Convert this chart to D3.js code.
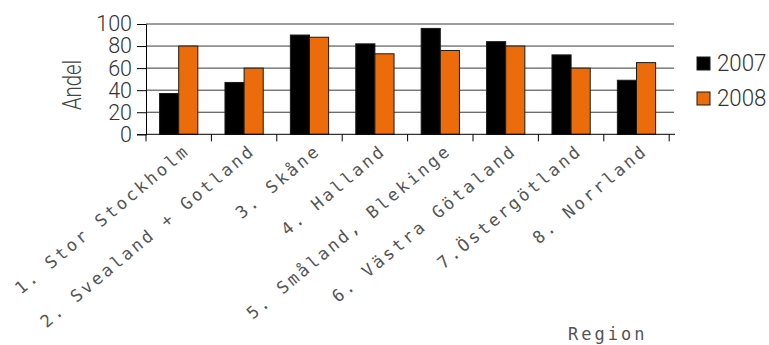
<!DOCTYPE html>
<html><head><meta charset="utf-8">
<script src="https://cdn.jsdelivr.net/npm/d3@7"></script>
<style>body{margin:0;background:#fff}</style>
</head><body><svg id="c" width="769" height="345"></svg>
<script>
const categories = ["1. Stor Stockholm","2. Svealand + Gotland","3. Skåne","4. Halland","5. Småland, Blekinge","6. Västra Götaland","7.Östergötland","8. Norrland"];
const seriesNames = ["2007","2008"];
const values2007 = [37,47,90,82,96,84,72,49];
const values2008 = [80,60,88,73,76,80,60,65];
const yTicks = [0,20,40,60,80,100];
const colors = ["#000000","#ec6c0c"];
const yTitle = "Andel";
const xTitle = "Region";

const svg = d3.select("#c");
const mLeft = 146, mRight = 669.2, plotRight = 674, mTop = 24, mBottom = 134.3;

const x0 = d3.scaleBand().domain(categories).range([mLeft, mRight]).padding(0);
const x1 = d3.scaleBand().domain(seriesNames).range([0, x0.bandwidth()]).paddingInner(0).paddingOuter(0.71);
const y = d3.scaleLinear().domain([0, 100]).range([mBottom, mTop]);
const color = d3.scaleOrdinal().domain(seriesNames).range(colors);

const data = categories.map((c, i) => ({cat: c, vals: [values2007[i], values2008[i]]}));

// gridlines
svg.append("g").selectAll("line").data(yTicks.filter(d => d > 0)).join("line")
  .attr("x1", mLeft).attr("x2", plotRight)
  .attr("y1", d => y(d)).attr("y2", d => y(d))
  .attr("stroke", "#3a3a3a").attr("stroke-width", 1);

// bars
svg.append("g").selectAll("g").data(data).join("g")
  .attr("transform", d => `translate(${x0(d.cat)},0)`)
  .selectAll("rect").data(d => d.vals.map((v, j) => ({s: seriesNames[j], v})))
  .join("rect")
  .attr("x", d => x1(d.s)).attr("width", x1.bandwidth())
  .attr("y", d => y(d.v)).attr("height", d => y(0) - y(d.v))
  .attr("fill", d => color(d.s)).attr("stroke", "#1a1a1a").attr("stroke-width", 1);

// y axis
const yAxis = svg.append("g").attr("transform", `translate(${mLeft},0)`)
  .call(d3.axisLeft(y).tickValues(yTicks).tickSize(9).tickPadding(5));
yAxis.select(".domain").attr("stroke", "#000");
yAxis.selectAll(".tick line").attr("stroke", "#000");
yAxis.selectAll("text").attr("font-family", "Roboto").attr("font-weight", 300)
  .attr("font-size", 21.5).attr("fill", "#333");

// x axis line
svg.append("line").attr("x1", mLeft).attr("x2", plotRight + 1)
  .attr("y1", y(0)).attr("y2", y(0)).attr("stroke", "#000").attr("stroke-width", 1);
// boundary ticks
const bounds = categories.map(c => x0(c)).concat([x0(categories[categories.length - 1]) + x0.bandwidth()]);
svg.append("g").selectAll("line").data(bounds).join("line")
  .attr("x1", d => d).attr("x2", d => d)
  .attr("y1", y(0)).attr("y2", y(0) + 7).attr("stroke", "#000");

// category labels
svg.append("g").selectAll("text").data(categories).join("text")
  .attr("transform", d => `translate(${x0(d) + x0.bandwidth() / 2 + 10},${y(0) + 20}) rotate(-40)`)
  .attr("text-anchor", "end")
  .attr("x", 2.8)
  .attr("font-family", "DejaVu Sans Mono").attr("font-size", 17)
  .attr("letter-spacing", 2.8).attr("fill", "#555")
  .text(d => d);

// y title
svg.append("text")
  .attr("transform", `translate(81,85) rotate(-90) scale(0.78,1)`)
  .attr("text-anchor", "middle")
  .attr("font-family", "Roboto").attr("font-weight", 300).attr("font-size", 26)
  .attr("fill", "#444").text(yTitle);

// x title
svg.append("text").attr("x", 568).attr("y", 340)
  .attr("font-family", "DejaVu Sans Mono").attr("font-size", 17)
  .attr("letter-spacing", 3).attr("fill", "#555").text(xTitle);

// legend
const lg = svg.append("g").selectAll("g").data(seriesNames).join("g")
  .attr("transform", (d, i) => `translate(697,${57 + i * 35})`);
lg.append("rect").attr("width", 13).attr("height", 13)
  .attr("fill", d => color(d)).attr("stroke", "#1a1a1a");
lg.append("text").attr("transform", "translate(20,14) scale(0.91,1)")
  .attr("font-family", "Roboto").attr("font-weight", 300).attr("font-size", 24.5)
  .attr("fill", "#333").text(d => d);
</script></body></html>
